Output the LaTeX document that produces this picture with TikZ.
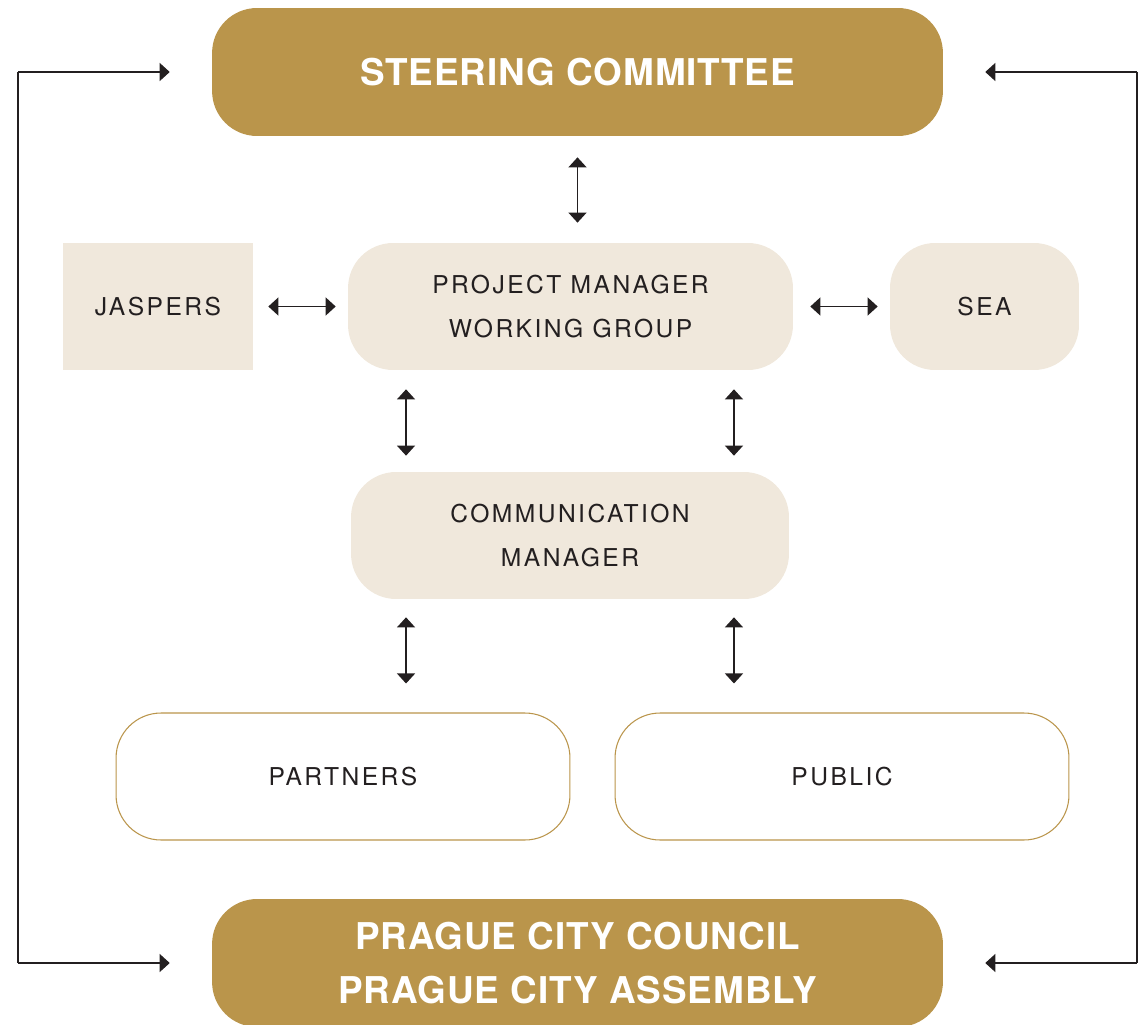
\documentclass[tikz,border=0pt]{standalone}
\usepackage{fontspec}
\usetikzlibrary{arrows.meta}
\usetikzlibrary{positioning}

\newfontfamily\boxfont{TeX Gyre Heros}[LetterSpace=10]
\newfontfamily\headfont{TeX Gyre Heros}[LetterSpace=2.5]

\definecolor{gold}{HTML}{BA954B}
\definecolor{sand}{HTML}{F0E8DC}
\definecolor{ink}{HTML}{231F20}

\tikzset{
	head/.style={fill=gold, rounded corners=0.9cm, inner sep=0pt, minimum width=14.62cm, minimum height=2.56cm,
		text=white, align=center, font=\headfont\bfseries\fontsize{21}{30.6}\selectfont},
	unit/.style={fill=sand, rounded corners=0.9cm, inner sep=0pt, minimum height=2.54cm,
		text=ink, align=center, font=\boxfont\fontsize{14}{25.5}\selectfont},
	group/.style={unit, fill=white, draw=gold, line width=0.6pt, minimum width=9.08cm},
	biarrow/.style={{Triangle[length=5.7pt,width=10.2pt]}-{Triangle[length=5.7pt,width=10.2pt]}, draw=ink, line width=0.8pt},
	feed/.style={-{Triangle[length=5.7pt,width=10.2pt]}, draw=ink, line width=0.6pt}
}

\begin{document}
\begin{tikzpicture}[x=0.02cm, y=-0.02cm]
		\useasboundingbox (0, 0) rectangle (1142, 1024);
		\node[head] (sc) at (577.5, 72) {STEERING COMMITTEE};
		\node[head] (pcc) at (577.5, 963) {PRAGUE CITY COUNCIL\\PRAGUE CITY ASSEMBLY};
		\node[unit, rounded corners=0pt, minimum width=3.8cm] (jaspers) at (158, 306.5) {JASPERS};
		\node[unit, minimum width=8.9cm] (pm) at (570.5, 306.5) {PROJECT MANAGER\\WORKING GROUP};
		\node[unit, minimum width=3.78cm] (sea) at (984.5, 306.5) {SEA};
		\node[unit, minimum width=8.76cm] (cm) at (570, 535.5) {COMMUNICATION\\MANAGER};
		\node[group] (partners) at (343, 776.5) {PARTNERS};
		\node[group] (public) at (842, 776.5) {PUBLIC};
		\coordinate (lt) at (18, 72);
		\coordinate (lb) at (18, 963);
		\coordinate (rt) at (1137, 72);
		\coordinate (rb) at (1137, 963);
		% links between the boxes
		\draw[biarrow, shorten <=0.42cm, shorten >=0.4cm] (sc.south) -- (sc.south |- pm.north);
		\draw[biarrow, shorten <=0.3cm, shorten >=0.24cm] (jaspers.east) -- (pm.west);
		\draw[biarrow, shorten <=0.34cm, shorten >=0.24cm] (pm.east) -- (sea.west);
		\draw[biarrow, shorten <=0.38cm, shorten >=0.32cm] ([xshift=-3.29cm]pm.south) -- ([xshift=-3.29cm]pm.south |- cm.north);
		\draw[biarrow, shorten <=0.38cm, shorten >=0.32cm] ([xshift=3.27cm]pm.south) -- ([xshift=3.27cm]pm.south |- cm.north);
		\draw[biarrow, shorten <=0.36cm, shorten >=0.58cm] ([xshift=-3.28cm]cm.south) -- ([xshift=-3.28cm]cm.south |- partners.north);
		\draw[biarrow, shorten <=0.36cm, shorten >=0.58cm] ([xshift=3.28cm]cm.south) -- ([xshift=3.28cm]cm.south |- public.north);
		% outer loops
		\draw[ink, line width=0.6pt] (lt) -- (lb);
		\draw[ink, line width=0.6pt] (rt) -- (rb);
		\draw[feed, shorten >=0.84cm] (lt) -- (sc.west);
		\draw[feed, shorten >=0.84cm] (lb) -- (pcc.west);
		\draw[feed, shorten >=0.84cm] (rt) -- (sc.east);
		\draw[feed, shorten >=0.84cm] (rb) -- (pcc.east);
	\end{tikzpicture}
\end{document}
